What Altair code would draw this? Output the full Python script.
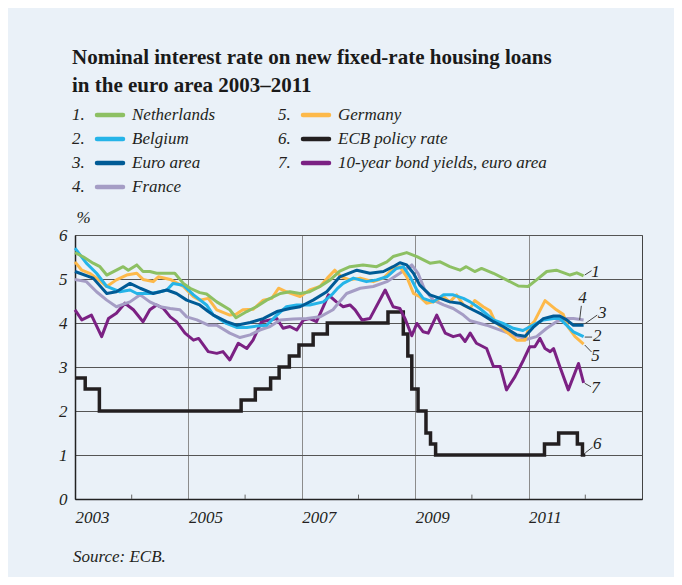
import altair as alt
import pandas as pd

# ---------------- data ----------------
series_names = ["Netherlands", "Belgium", "Euro area", "France", "Germany",
                "ECB policy rate", "10-year bond yields, euro area"]
series_colors = ["#8dc063", "#25b4e8", "#005b96", "#a59dc5", "#fdb94a",
                 "#231f20", "#7b2183"]

nl_t = [2003.0, 2003.15, 2003.32, 2003.44, 2003.56, 2003.85, 2003.94, 2004.09, 2004.2, 2004.32,
        2004.44, 2004.59, 2004.76, 2004.91, 2005.03, 2005.2, 2005.32, 2005.5, 2005.73, 2005.84,
        2006.03, 2006.2, 2006.38, 2006.62, 2006.79, 2006.97, 2007.14, 2007.32, 2007.5, 2007.67,
        2007.85, 2008.08, 2008.32, 2008.5, 2008.61, 2008.85, 2009.03, 2009.26, 2009.44, 2009.61,
        2009.79, 2009.9, 2010.05, 2010.17, 2010.38, 2010.61, 2010.82, 2010.99, 2011.14, 2011.32,
        2011.49, 2011.73, 2011.85, 2011.97]
nl_v = [5.60, 5.50, 5.36, 5.28, 5.09, 5.28, 5.20, 5.32, 5.17, 5.17,
        5.13, 5.13, 5.13, 4.90, 4.79, 4.69, 4.66, 4.48, 4.30, 4.12,
        4.26, 4.37, 4.52, 4.67, 4.71, 4.67, 4.71, 4.83, 4.98, 5.18,
        5.28, 5.32, 5.28, 5.39, 5.51, 5.60, 5.51, 5.36, 5.39, 5.28,
        5.20, 5.28, 5.17, 5.24, 5.13, 4.98, 4.84, 4.83, 4.98, 5.17,
        5.20, 5.09, 5.14, 5.07]

be_t = [2003.0, 2003.2, 2003.38, 2003.56, 2003.79, 2003.97, 2004.09, 2004.32, 2004.5, 2004.62,
        2004.73, 2004.91, 2005.09, 2005.32, 2005.44, 2005.67, 2005.85, 2006.03, 2006.2, 2006.38,
        2006.56, 2006.73, 2006.91, 2007.14, 2007.38, 2007.55, 2007.64, 2007.73, 2007.91, 2008.14,
        2008.32, 2008.5, 2008.67, 2008.79, 2008.91, 2009.03, 2009.14, 2009.32, 2009.5, 2009.67,
        2009.85, 2009.97, 2010.14, 2010.38, 2010.55, 2010.73, 2010.9, 2011.08, 2011.26, 2011.44,
        2011.55, 2011.67, 2011.79, 2011.97]
be_v = [5.70, 5.36, 5.13, 4.83, 4.71, 4.75, 4.67, 4.67, 4.71, 4.75,
        4.90, 4.86, 4.64, 4.41, 4.18, 3.99, 3.90, 3.90, 3.93, 3.95,
        4.18, 4.37, 4.41, 4.41, 4.48, 4.67, 4.80, 4.90, 5.02, 4.94,
        4.98, 5.05, 5.24, 5.28, 5.05, 4.75, 4.56, 4.48, 4.64, 4.64,
        4.56, 4.48, 4.33, 4.07, 3.99, 3.88, 3.83, 3.95, 4.07, 4.10,
        4.10, 3.95, 3.80, 3.69]

ea_t = [2003.0, 2003.32, 2003.56, 2003.73, 2003.97, 2004.15, 2004.38, 2004.62, 2004.79, 2004.97,
        2005.2, 2005.35, 2005.44, 2005.67, 2005.85, 2006.09, 2006.32, 2006.56, 2006.79, 2006.97,
        2007.2, 2007.44, 2007.67, 2007.97, 2008.2, 2008.44, 2008.61, 2008.73, 2008.85, 2008.97,
        2009.08, 2009.26, 2009.44, 2009.61, 2009.79, 2009.97, 2010.17, 2010.38, 2010.55, 2010.79,
        2010.94, 2011.08, 2011.26, 2011.44, 2011.55, 2011.67, 2011.79, 2011.97]
ea_v = [5.17, 5.02, 4.67, 4.71, 4.90, 4.79, 4.67, 4.75, 4.67, 4.52,
        4.41, 4.26, 4.18, 4.03, 3.95, 4.01, 4.10, 4.26, 4.33, 4.37,
        4.52, 4.71, 5.05, 5.20, 5.13, 5.17, 5.28, 5.37, 5.32, 5.13,
        4.86, 4.64, 4.56, 4.48, 4.45, 4.33, 4.20, 4.03, 3.92, 3.73,
        3.70, 3.90, 4.10, 4.16, 4.16, 4.07, 3.95, 3.95]

fr_t = [2003.0, 2003.2, 2003.38, 2003.56, 2003.73, 2003.97, 2004.15, 2004.32, 2004.5, 2004.68,
        2004.85, 2004.97, 2005.15, 2005.35, 2005.5, 2005.73, 2005.91, 2006.09, 2006.26, 2006.44,
        2006.62, 2006.85, 2007.09, 2007.32, 2007.55, 2007.65, 2007.79, 2008.03, 2008.26, 2008.5,
        2008.73, 2008.94, 2009.05, 2009.17, 2009.32, 2009.5, 2009.67, 2009.85, 2009.97, 2010.26,
        2010.5, 2010.73, 2010.97, 2011.14, 2011.32, 2011.49, 2011.67, 2011.79, 2011.97]
fr_v = [4.99, 4.94, 4.71, 4.52, 4.37, 4.48, 4.64, 4.48, 4.37, 4.33,
        4.30, 4.14, 4.07, 3.95, 3.95, 3.77, 3.67, 3.73, 3.84, 3.92,
        4.07, 4.09, 4.10, 4.14, 4.30, 4.46, 4.67, 4.79, 4.83, 4.94,
        5.13, 5.32, 5.13, 4.75, 4.52, 4.41, 4.33, 4.18, 4.05, 3.95,
        3.84, 3.73, 3.63, 3.69, 3.88, 4.03, 4.10, 4.10, 4.07]

de_t = [2003.0, 2003.12, 2003.26, 2003.38, 2003.56, 2003.73, 2003.91, 2004.09, 2004.2, 2004.38,
        2004.47, 2004.68, 2004.91, 2005.09, 2005.2, 2005.35, 2005.5, 2005.73, 2005.84, 2005.96,
        2006.14, 2006.32, 2006.47, 2006.59, 2006.73, 2006.97, 2007.14, 2007.32, 2007.45, 2007.58,
        2007.7, 2007.85, 2008.03, 2008.26, 2008.44, 2008.61, 2008.73, 2008.85, 2008.97, 2009.08,
        2009.2, 2009.32, 2009.5, 2009.61, 2009.73, 2009.85, 2009.97, 2010.05, 2010.2, 2010.32,
        2010.41, 2010.61, 2010.79, 2010.94, 2011.0, 2011.1, 2011.29, 2011.49, 2011.61, 2011.7,
        2011.82, 2011.97]
de_v = [5.39, 5.20, 5.13, 5.02, 4.83, 4.98, 5.09, 5.13, 4.99, 4.94,
        5.05, 4.99, 4.83, 4.60, 4.52, 4.56, 4.30, 4.18, 4.20, 4.30,
        4.31, 4.52, 4.56, 4.79, 4.71, 4.60, 4.75, 4.83, 5.02, 5.20,
        5.05, 4.98, 5.02, 4.94, 5.02, 5.24, 5.28, 5.05, 4.67, 4.60,
        4.45, 4.48, 4.60, 4.48, 4.64, 4.41, 4.33, 4.51, 4.37, 4.28,
        4.03, 3.80, 3.61, 3.61, 3.90, 4.03, 4.51, 4.30, 4.20, 3.90,
        3.69, 3.52]

ecb_t = [2003.0, 2003.18, 2003.43, 2005.93, 2006.18, 2006.45, 2006.6, 2006.78, 2006.95, 2007.2,
         2007.45, 2008.52, 2008.79, 2008.87, 2008.94, 2009.05, 2009.19, 2009.27, 2009.36, 2011.28,
         2011.53, 2011.86, 2011.95, 2012.0]
ecb_v = [2.75, 2.50, 2.00, 2.25, 2.50, 2.75, 3.00, 3.25, 3.50, 3.75,
         4.00, 4.25, 3.75, 3.25, 2.50, 2.00, 1.50, 1.25, 1.00, 1.25,
         1.50, 1.25, 1.00, 1.00]

by_t = [2003.0, 2003.12, 2003.29, 2003.47, 2003.59, 2003.73, 2003.88, 2004.03, 2004.2, 2004.32,
        2004.44, 2004.56, 2004.68, 2004.79, 2004.94, 2005.09, 2005.18, 2005.35, 2005.5, 2005.61,
        2005.73, 2005.88, 2006.03, 2006.14, 2006.29, 2006.44, 2006.56, 2006.67, 2006.79, 2006.91,
        2007.03, 2007.14, 2007.26, 2007.38, 2007.47, 2007.61, 2007.73, 2007.85, 2007.94, 2008.06,
        2008.2, 2008.47, 2008.61, 2008.73, 2008.82, 2008.94, 2009.03, 2009.14, 2009.23, 2009.38,
        2009.53, 2009.67, 2009.79, 2009.88, 2009.97, 2010.08, 2010.26, 2010.38, 2010.5, 2010.61,
        2010.76, 2010.91, 2011.02, 2011.11, 2011.2, 2011.29, 2011.38, 2011.44, 2011.55, 2011.7,
        2011.88, 2011.97]
by_v = [4.30, 4.07, 4.18, 3.69, 4.10, 4.22, 4.45, 4.30, 4.03, 4.30,
        4.41, 4.33, 4.14, 4.03, 3.77, 3.61, 3.65, 3.35, 3.31, 3.35,
        3.16, 3.54, 3.42, 3.61, 4.03, 4.07, 4.10, 3.88, 3.92, 3.84,
        4.07, 4.10, 4.03, 4.37, 4.64, 4.48, 4.37, 4.41, 4.30, 4.07,
        4.10, 4.75, 4.37, 4.33, 4.10, 3.71, 3.99, 3.80, 3.77, 4.18,
        3.77, 3.69, 3.73, 3.58, 3.77, 3.54, 3.42, 3.01, 3.01, 2.48,
        2.78, 3.16, 3.46, 3.46, 3.65, 3.42, 3.35, 3.42, 3.01, 2.48,
        3.08, 2.64]

x_label_years = [2003, 2005, 2007, 2009, 2011]
minor_tick_years = [2004, 2006, 2008, 2010, 2012]
y_ticks = [0, 1, 2, 3, 4, 5, 6]

# ---------------- build tables ----------------
series_data = {
    "Netherlands": (nl_t, nl_v),
    "Belgium": (be_t, be_v),
    "Euro area": (ea_t, ea_v),
    "France": (fr_t, fr_v),
    "Germany": (de_t, de_v),
    "ECB policy rate": (ecb_t, ecb_v),
    "10-year bond yields, euro area": (by_t, by_v),
}
color_of = dict(zip(series_names, series_colors))

SERIF = "Liberation Serif"
INK = "#231f20"

xs = alt.Scale(domain=[2003, 2013], nice=False, zero=False)
ys = alt.Scale(domain=[0, 6], nice=False)
x_axis = alt.Axis(values=x_label_years, format="d", labelAlign="left", labelFont=SERIF,
                  labelFontStyle="italic", labelFontSize=17, labelColor=INK, labelPadding=10,
                  ticks=False, grid=True, gridColor="#8c8c8c", gridWidth=1,
                  domainColor="#222222", domainWidth=1.5, labelFlush=False)
y_axis = alt.Axis(values=y_ticks, format="d", labelFont=SERIF, labelFontStyle="italic",
                  labelFontSize=17, labelColor=INK, labelPadding=8, ticks=False, grid=True,
                  gridColor="#555555", gridWidth=1, domainColor="#222222", domainWidth=1.5,
                  title="%", titleAngle=0, titleAlign="left", titleBaseline="bottom",
                  titleX=1, titleY=-9, titleFont=SERIF, titleFontStyle="italic",
                  titleFontWeight="normal", titleFontSize=17, titleColor=INK)

X = alt.X("year:Q", scale=xs, axis=x_axis, title=None)
Y = alt.Y("rate:Q", scale=ys, axis=y_axis, title="%")

one = pd.DataFrame({"k": [0]})

layers = []
# minor ticks on the bottom axis (pointing inward)
minor_df = pd.DataFrame({"year": minor_tick_years})
layers.append(alt.Chart(minor_df).mark_rule(color="#666666", strokeWidth=1).encode(
    x=X, y=alt.datum(0), y2=alt.datum(0.1)))

draw_order = ["ECB policy rate", "10-year bond yields, euro area", "France", "Germany",
              "Belgium", "Netherlands", "Euro area"]
for name in draw_order:
    t, v = series_data[name]
    d = pd.DataFrame({"year": t, "rate": v})
    if name == "ECB policy rate":
        m = alt.Chart(d).mark_line(color=color_of[name], strokeWidth=3.5,
                                   interpolate="step-after")
    else:
        m = alt.Chart(d).mark_line(color=color_of[name], strokeWidth=3,
                                   strokeJoin="round")
    layers.append(m.encode(x=X, y=Y))

# end-of-line numbers with leader lines (data coordinates)
end_labels = [
    ("1", 2012.18, 5.17, 2011.99, 5.09, 2012.11, 5.19),
    ("2", 2012.21, 3.70, 2011.99, 3.68, 2012.12, 3.68),
    ("3", 2012.30, 4.22, 2011.99, 3.98, 2012.21, 4.18),
    ("4", 2011.95, 4.56, 2011.90, 4.07, 2011.93, 4.39),
    ("5", 2012.18, 3.24, 2011.99, 3.50, 2012.11, 3.34),
    ("6", 2012.21, 1.25, 2012.0, 1.05, 2012.13, 1.18),
    ("7", 2012.18, 2.53, 2011.99, 2.63, 2012.10, 2.55),
]
for lab, tx, ty, ax1, ay1, ax2, ay2 in end_labels:
    layers.append(alt.Chart(one).mark_rule(color="#444444", strokeWidth=1).encode(
        x=alt.datum(ax1), y=alt.datum(ay1), x2=alt.datum(ax2), y2=alt.datum(ay2)))
    layers.append(alt.Chart(one).mark_text(text=lab, font=SERIF, fontStyle="italic",
                                           fontSize=17, color=INK, align="center",
                                           baseline="middle").encode(
        x=alt.datum(tx), y=alt.datum(ty)))

# legend (two columns, numbered)
legend_rows_y = [-120, -96, -72, -48]
for i, name in enumerate(series_names):
    col = 0 if i < 4 else 1
    row = i if i < 4 else i - 4
    x0 = -3 if col == 0 else 203
    yy = legend_rows_y[row]
    layers.append(alt.Chart(one).mark_text(text=f"{i + 1}.", font=SERIF, fontStyle="italic",
                                           fontSize=17, color=INK, align="left",
                                           baseline="middle").encode(
        x=alt.value(x0), y=alt.value(yy)))
    layers.append(alt.Chart(one).mark_rule(color=color_of[name], strokeWidth=4.5,
                                           strokeCap="round").encode(
        x=alt.value(x0 + 25), x2=alt.value(x0 + 51), y=alt.value(yy)))
    layers.append(alt.Chart(one).mark_text(text=name, font=SERIF, fontStyle="italic",
                                           fontSize=17, color=INK, align="left",
                                           baseline="middle").encode(
        x=alt.value(x0 + 60), y=alt.value(yy)))

# source line
layers.append(alt.Chart(one).mark_text(text="Source: ECB.", font=SERIF, fontStyle="italic",
                                       fontSize=17, color=INK, align="left",
                                       baseline="middle").encode(
    x=alt.value(-2), y=alt.value(322)))

chart = alt.layer(*layers).properties(
    width=567, height=264,
    title=alt.TitleParams(
        text=["Nominal interest rate on new fixed-rate housing loans",
              "in the euro area 2003\u20132011"],
        anchor="start", frame="group", font=SERIF, fontSize=21, fontWeight="bold",
        color="#1a1a1a", lineHeight=28, dx=-3, offset=10),
    autosize=alt.AutoSizeParams(type="none"),
    padding={"left": 67, "top": 227, "right": 32, "bottom": 78},
).configure(background="#eaf1f8").configure_view(stroke="#444444", strokeWidth=1)

chart.save("out.html", embed_options={"renderer": "svg", "actions": False})
